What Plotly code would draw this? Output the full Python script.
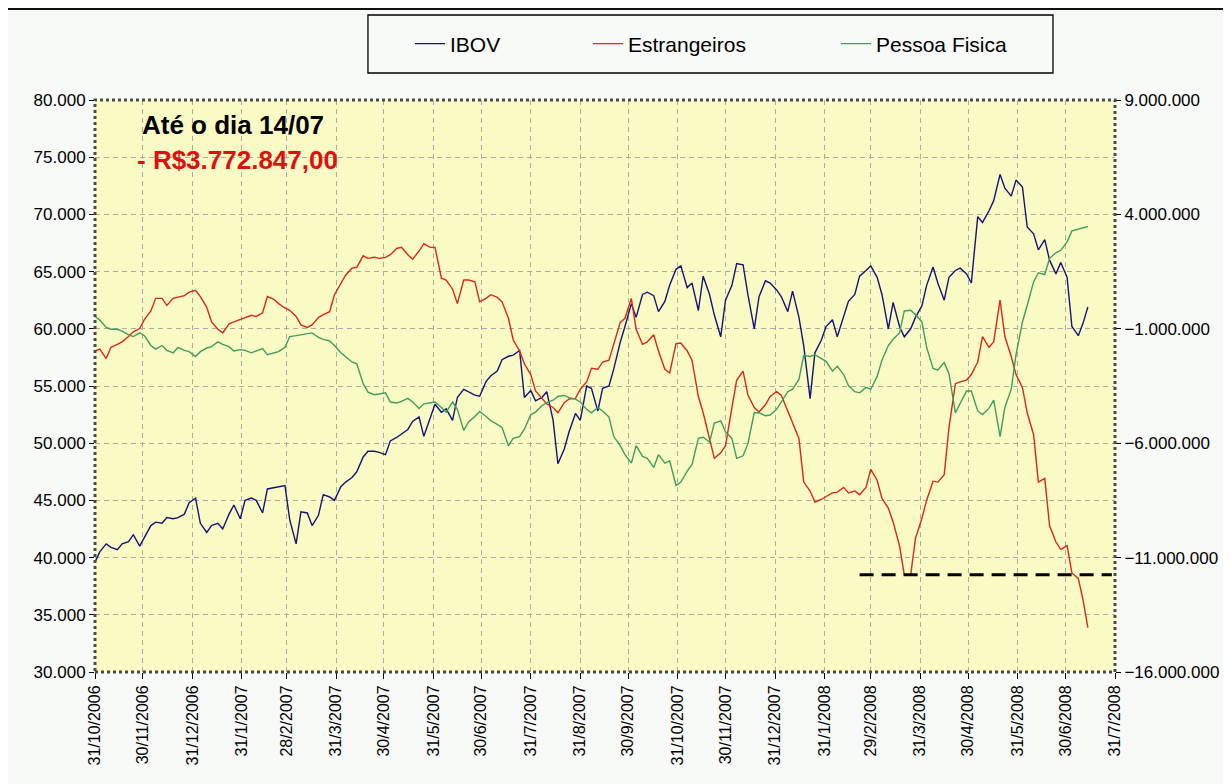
import pandas as pd
import plotly.graph_objects as go

# sampling dates: tuesdays and fridays from 31/10/2006 up to 14/07/2008
tue = pd.date_range("2006-10-31", "2008-07-08", freq="7D")
fri = tue + pd.Timedelta(days=3)
DATES = sorted(list(tue) + list(fri)) + [pd.Timestamp("2008-07-14")]

# IBOV, thousands of points
IBOV_MIL = [
    39.6, 40.5, 41.2, 40.9, 40.7, 41.2, 41.4, 42.0, 41.0, 41.8,
    42.8, 43.1, 43.0, 43.5, 43.4, 43.5, 43.8, 44.8, 45.2, 43.0,
    42.2, 42.8, 43.0, 42.5, 43.8, 44.6, 43.4, 45.0, 45.2, 45.0,
    43.9, 46.0, 46.1, 46.2, 46.3, 43.3, 41.2, 44.0, 43.9, 42.8,
    43.7, 45.5, 45.3, 45.0, 46.2, 46.6, 47.0,
    47.5, 48.8, 49.3, 49.3, 49.2, 49.0, 50.2, 50.5, 50.8, 51.2,
    51.9, 52.3, 50.6, 52.3, 53.4, 52.7, 53.0, 52.0, 54.0, 54.7,
    54.5, 54.2, 54.1, 55.4, 55.9, 56.3, 57.3, 57.6, 57.7, 58.1,
    54.0, 54.6, 53.7, 54.0, 54.5, 52.0, 48.2, 49.5, 51.0, 52.6,
    52.0, 55.0, 54.8, 52.8, 54.8, 55.0,
    56.5, 58.8, 60.2, 62.2, 61.0, 63.0, 63.2, 62.9, 61.5, 62.4,
    63.8, 65.2, 65.5, 63.6, 64.0, 61.6, 64.6, 63.0, 61.2, 59.3,
    62.5, 63.8, 65.7, 65.6, 63.0, 60.0, 62.8, 64.2, 64.0, 63.4,
    62.8, 61.5, 63.3, 61.0, 58.5, 53.9, 57.9, 59.0, 60.2, 60.8,
    59.3, 61.0, 62.4, 63.0, 64.6, 65.1,
    65.5, 64.5, 63.0, 60.0, 62.3, 60.2, 59.3, 60.0, 61.0, 62.0,
    63.8, 65.4, 64.0, 62.5, 64.5, 65.1, 65.3, 64.8, 64.0, 69.8,
    69.3, 70.3, 71.2, 73.5, 72.3, 71.6, 73.0, 72.4, 68.9, 68.3,
    66.9, 67.8, 66.0, 64.8, 65.8, 64.5, 60.2, 59.4, 60.5, 61.9,
]

# accumulated flows, R$ million
ESTRANGEIROS_MI = [
    -1.97, -1.89, -2.30, -1.81, -1.68, -1.57, -1.34, -1.13, -0.99, -0.59,
    -0.22, 0.33, 0.33, 0.02, 0.33, 0.38, 0.45, 0.60, 0.68, 0.41,
    -0.06, -0.70, -1.02, -1.18, -0.78, -0.70, -0.59, -0.54, -0.41, -0.46,
    -0.30, 0.41, 0.29, 0.10, -0.09, -0.19, -0.46, -0.83, -0.94, -0.83,
    -0.51, -0.38, -0.25, 0.49, 0.97, 1.34, 1.65,
    1.69, 2.19, 2.08, 2.13, 2.08, 2.12, 2.24, 2.51, 2.56, 2.24,
    2.04, 2.40, 2.72, 2.56, 2.56, 1.21, 1.13, 0.73, 0.10, 1.13,
    1.13, 1.05, 0.18, 0.33, 0.49, 0.37, 0.18, -0.54, -1.49, -1.97,
    -2.53, -3.00, -3.72, -4.04, -4.28, -4.44, -4.67, -4.23, -4.07, -4.04,
    -3.64, -3.32, -2.73, -2.77, -2.45, -2.37,
    -1.65, -0.73, -0.54, 0.33, -1.02, -1.68, -1.57, -1.26, -1.97, -2.77,
    -2.93, -1.65, -1.62, -1.97, -2.37, -3.96, -4.67, -5.87, -6.66, -6.42,
    -6.11, -4.44, -3.24, -2.85, -3.88, -4.44, -4.64, -4.32, -3.96, -3.75,
    -3.91, -4.59, -5.07, -5.79, -7.70, -8.09, -8.57, -8.46, -8.33, -8.17,
    -8.14, -7.93, -8.17, -8.09, -8.25, -7.93,
    -7.14, -7.62, -8.41, -8.84, -9.44, -10.48, -11.75, -11.75, -10.16, -9.29,
    -8.49, -7.66, -7.70, -7.38, -5.31, -3.40, -3.32, -3.24, -3.00, -2.45,
    -1.34, -1.81, -1.57, 0.26, -1.34, -2.21, -3.00, -3.56, -4.67, -5.63,
    -7.70, -7.54, -9.60, -10.32, -10.64, -10.48, -11.67, -11.91, -12.86, -14.06,
]

PESSOA_FISICA_MI = [
    -0.46, -0.62, -0.94, -1.02, -1.02, -1.10, -1.26, -1.34, -1.18, -1.30,
    -1.73, -1.89, -1.73, -1.94, -2.05, -1.81, -1.94, -2.00, -2.21, -2.00,
    -1.84, -1.78, -1.57, -1.68, -1.78, -1.97, -1.91, -1.94, -2.05, -1.97,
    -1.86, -2.13, -2.05, -2.00, -1.81, -1.34, -1.30, -1.27, -1.24, -1.18,
    -1.37, -1.46, -1.53, -1.73, -2.05, -2.21, -2.45,
    -2.53, -3.40, -3.77, -3.88, -3.85, -3.80, -4.20, -4.24, -4.17, -4.04,
    -4.20, -4.48, -4.28, -4.23, -4.20, -4.44, -4.64, -4.20, -4.52, -5.44,
    -5.07, -4.83, -4.61, -4.83, -5.02, -5.18, -5.31, -6.11, -5.79, -5.71,
    -5.39, -4.75, -4.64, -4.36, -4.23, -4.12, -3.96, -3.91, -4.01, -4.07,
    -4.20, -4.52, -4.67, -4.44, -4.59, -4.86,
    -5.71, -6.11, -6.50, -6.87, -6.11, -6.58, -6.66, -7.06, -6.50, -6.87,
    -6.77, -7.85, -7.70, -7.22, -6.93, -5.79, -5.74, -5.95, -5.12, -5.02,
    -5.50, -5.79, -6.66, -6.55, -6.03, -4.67, -4.67, -4.80, -4.77, -4.52,
    -4.20, -3.75, -3.64, -3.21, -2.16, -2.21, -2.13, -2.29, -2.42, -2.85,
    -2.64, -3.00, -3.48, -3.75, -3.80, -3.56,
    -3.64, -3.08, -2.37, -1.73, -1.46, -1.18, -0.22, -0.19, -0.38, -0.70,
    -1.81, -2.73, -2.80, -2.48, -2.96, -4.67, -4.28, -3.72, -3.72, -4.59,
    -4.75, -4.48, -4.12, -5.71, -4.44, -3.64, -2.13, -0.70, 0.02, 1.05,
    1.45, 1.37, 2.08, 2.32, 2.43, 2.80, 3.28, 3.36, 3.44, 3.47,
]

# previous low of foreign flow, marked with the dashed line
DASH_DATES = ["2008-02-22", "2008-07-29"]
DASH_LEVEL_MI = [-11.75, -11.75]

MONTH_ENDS = [
    "2006-10-31", "2006-11-30", "2006-12-31", "2007-01-31", "2007-02-28",
    "2007-03-31", "2007-04-30", "2007-05-31", "2007-06-30", "2007-07-31",
    "2007-08-31", "2007-09-30", "2007-10-31", "2007-11-30", "2007-12-31",
    "2008-01-31", "2008-02-29", "2008-03-31", "2008-04-30", "2008-05-31",
    "2008-06-30", "2008-07-31",
]
TICK_LABELS = [
    "31/10/2006", "30/11/2006", "31/12/2006", "31/1/2007", "28/2/2007",
    "31/3/2007", "30/4/2007", "31/5/2007", "30/6/2007", "31/7/2007",
    "31/8/2007", "30/9/2007", "31/10/2007", "30/11/2007", "31/12/2007",
    "31/1/2008", "29/2/2008", "31/3/2008", "30/4/2008", "31/5/2008",
    "30/6/2008", "31/7/2008",
]

FONT = "Liberation Sans, Arial, sans-serif"
GRID = "#ABABA2"

fig = go.Figure()
fig.add_trace(go.Scatter(
    x=DATES, y=[v * 1000 for v in IBOV_MIL], name="IBOV", mode="lines",
    line=dict(color="#14147A", width=1.4), legend="legend",
))
fig.add_trace(go.Scatter(
    x=DATES, y=[v * 1e6 for v in ESTRANGEIROS_MI], name="Estrangeiros",
    mode="lines", line=dict(color="#D9281C", width=1.4), yaxis="y2",
    legend="legend2",
))
fig.add_trace(go.Scatter(
    x=DATES, y=[v * 1e6 for v in PESSOA_FISICA_MI], name="Pessoa Fisica",
    mode="lines", line=dict(color="#3E9E5E", width=1.4), yaxis="y2",
    legend="legend3",
))
fig.add_trace(go.Scatter(
    x=DASH_DATES, y=[v * 1e6 for v in DASH_LEVEL_MI], mode="lines",
    line=dict(color="#000000", width=3, dash="14px,8px"), yaxis="y2",
    showlegend=False, hoverinfo="skip",
))


def legend_at(px):
    # px: left edge on the page; the plot starts at page x 95
    return dict(
        x=(px - 95) / 1020, xanchor="left", y=1.0979, yanchor="middle",
        orientation="h", bgcolor="rgba(0,0,0,0)", borderwidth=0,
        font=dict(family=FONT, size=21, color="#000"),
    )


# the page body adds 8px around the figure, so the figure is 8px smaller
fig.update_layout(
    width=1223,
    height=776,
    margin=dict(l=87, r=116, t=92, b=112),
    paper_bgcolor="#F7FAF7",
    plot_bgcolor="#FAFAC4",
    separators=",.",
    font=dict(family=FONT, size=16, color="#000"),
    legend=legend_at(410),
    legend2=legend_at(588),
    legend3=legend_at(836),
    xaxis=dict(
        type="date",
        range=["2006-10-31", "2008-07-31"],
        tickvals=MONTH_ENDS,
        ticktext=TICK_LABELS,
        tickangle=-90,
        showgrid=True,
        gridcolor=GRID,
        griddash="5px,4px",
        ticks="outside",
        ticklen=6,
        tickcolor="#000",
        zeroline=False,
    ),
    yaxis=dict(
        range=[30000, 80000],
        dtick=5000,
        tickformat=",d",
        tickfont=dict(size=17),
        showgrid=True,
        gridcolor=GRID,
        griddash="5px,4px",
        ticks="outside",
        ticklen=5,
        tickcolor="#000",
        zeroline=False,
    ),
    yaxis2=dict(
        overlaying="y",
        side="right",
        range=[-16e6, 9e6],
        tick0=-16e6,
        dtick=5e6,
        tickformat=",d",
        tickfont=dict(size=17),
        showgrid=False,
        ticks="outside",
        ticklen=5,
        tickcolor="#000",
        zeroline=False,
    ),
    shapes=[
        # plot frame
        dict(type="rect", xref="paper", yref="paper", x0=0, y0=0, x1=1, y1=1,
             line=dict(color="#4A4A4A", width=3, dash="dot"), layer="above"),
        # legend box
        dict(type="rect", xref="paper", yref="paper", x0=0.2676, y0=1.0472,
             x1=0.9392, y1=1.1486, line=dict(color="#000", width=1.3)),
        # top rule
        dict(type="line", xref="paper", yref="paper", x0=-0.0853, x1=1.1137,
             y0=1.1591, y1=1.1591, line=dict(color="#111", width=2)),
    ],
    annotations=[
        dict(text="Até o dia 14/07", xref="paper", yref="paper",
             x=0.0441, y=0.9563, xanchor="left", yanchor="middle",
             showarrow=False,
             font=dict(family=FONT, size=26, color="#000", weight="bold")),
        dict(text="- R$3.772.847,00", xref="paper", yref="paper",
             x=0.0392, y=0.8951, xanchor="left", yanchor="middle",
             showarrow=False,
             font=dict(family=FONT, size=26, color="#E01010", weight="bold")),
    ],
)

fig.write_html("out.html")
